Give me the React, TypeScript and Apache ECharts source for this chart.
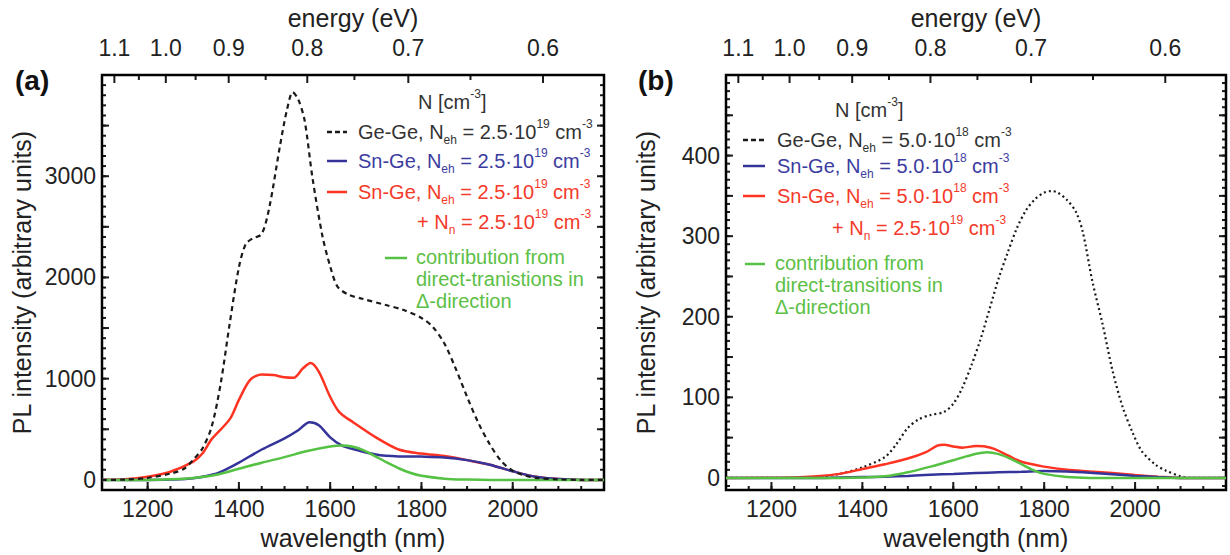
import React, { useEffect, useRef } from "react";
import * as echarts from "echarts";

const FONT = '"Liberation Sans", Arial, Helvetica, sans-serif';
const HC = 1239.84; // eV*nm, wavelength <-> photon energy

// ---- tick definitions ----
const energyMajor = [1.1, 1.0, 0.9, 0.8, 0.7, 0.6];
const energyMinor = [1.05, 0.95, 0.85, 0.75, 0.65];
const wlLabels = [1200, 1400, 1600, 1800, 2000];
const aYLabels = [0, 1000, 2000, 3000];
const bYLabels = [0, 100, 200, 300, 400];

// ---- panel (a): N_eh = 2.5e19 ----
const aGeGe = [
  [1100, 0], [1150, 3], [1200, 20], [1250, 62], [1280, 110], [1300, 200], [1320, 310],
  [1340, 520], [1360, 950], [1380, 1550], [1400, 2100], [1415, 2330], [1430, 2385],
  [1450, 2430], [1467, 2700], [1490, 3300], [1505, 3650], [1518, 3830], [1530, 3760],
  [1544, 3550], [1561, 2990], [1583, 2410], [1600, 2110], [1616, 1910], [1640, 1830],
  [1670, 1790], [1720, 1730], [1760, 1680], [1800, 1600], [1825, 1510], [1850, 1350],
  [1875, 1100], [1900, 820], [1925, 560], [1950, 350], [1975, 185], [2000, 90],
  [2025, 45], [2050, 20], [2100, 5], [2150, 0], [2200, 0],
];
const aSnGe = [
  [1100, 0], [1200, 0], [1250, 3], [1300, 15], [1350, 60], [1375, 110], [1400, 170],
  [1450, 300], [1500, 410], [1530, 490], [1555, 570], [1575, 540], [1600, 420],
  [1625, 340], [1650, 305], [1700, 250], [1750, 232], [1800, 230], [1850, 222],
  [1900, 195], [1950, 150], [2000, 85], [2050, 30], [2100, 8], [2150, 0], [2200, 0],
];
const aSnGeNn = [
  [1100, 0], [1150, 5], [1200, 30], [1250, 80], [1300, 180], [1320, 260], [1340, 400],
  [1380, 600], [1400, 790], [1425, 990], [1450, 1040], [1475, 1035], [1500, 1015],
  [1520, 1010], [1540, 1100], [1557, 1155], [1575, 1070], [1600, 820], [1620, 670],
  [1650, 570], [1700, 420], [1750, 300], [1800, 260], [1850, 235], [1900, 195],
  [1950, 150], [2000, 85], [2050, 30], [2100, 8], [2150, 0], [2200, 0],
];
const aDelta = [
  [1100, 0], [1200, 0], [1250, 5], [1300, 18], [1350, 50], [1400, 110], [1450, 170],
  [1500, 225], [1550, 285], [1600, 330], [1625, 340], [1650, 328], [1675, 290],
  [1700, 230], [1725, 170], [1750, 115], [1775, 70], [1800, 40], [1850, 12],
  [1900, 3], [1950, 0], [2200, 0],
];

// ---- panel (b): N_eh = 5.0e18 ----
const bGeGe = [
  [1100, 0], [1250, 0], [1300, 1], [1350, 5], [1400, 13], [1450, 26], [1475, 42],
  [1500, 62], [1525, 73], [1550, 78], [1580, 82], [1600, 92], [1620, 112], [1640, 140],
  [1660, 172], [1680, 210], [1700, 248], [1720, 280], [1740, 310], [1760, 332],
  [1780, 346], [1800, 354], [1816, 356], [1830, 354], [1850, 345], [1870, 330],
  [1885, 305], [1906, 244], [1928, 192], [1950, 134], [1972, 89], [1994, 57],
  [2015, 33], [2046, 16], [2068, 9], [2100, 2], [2120, 0], [2200, 0],
];
const bSnGe = [
  [1100, 0], [1300, 0], [1350, 0.5], [1400, 1], [1450, 1.5], [1500, 2.5], [1550, 4],
  [1600, 5], [1650, 6], [1700, 7], [1750, 7.5], [1800, 8.5], [1850, 8], [1900, 6.5],
  [1950, 4.5], [2000, 2.5], [2050, 1], [2100, 0], [2200, 0],
];
const bSnGeNn = [
  [1100, 0], [1250, 0.5], [1300, 2], [1350, 5], [1400, 11], [1450, 17], [1500, 24],
  [1540, 32], [1565, 40], [1580, 41], [1600, 39], [1620, 37.5], [1650, 39.5],
  [1670, 39], [1690, 36], [1720, 28], [1750, 20], [1800, 14], [1850, 10], [1900, 8],
  [1950, 6], [2000, 3.5], [2050, 1.5], [2100, 0], [2200, 0],
];
const bDelta = [
  [1100, 0], [1350, 0], [1400, 0.5], [1450, 2], [1500, 7], [1550, 14], [1600, 22],
  [1650, 30], [1675, 32], [1700, 29.5], [1725, 24], [1750, 17], [1775, 10], [1800, 5],
  [1850, 1], [1900, 0], [2200, 0],
];

const C_BLACK = "#1a1a1a";
const C_BLUE = "#34349a";
const C_RED = "#ff3322";
const C_GREEN = "#55c244";
const T_BLACK = "#333333";
const T_BLUE = "#3c3ca0";
const T_RED = "#f43a2a";
const T_GREEN = "#5cc046";

const X_MIN = 1100;
const X_MAX = 2200;

function range(a: number, b: number, step: number) {
  const out: number[] = [];
  for (let v = a; v <= b + 1e-9; v += step) out.push(Math.round(v * 1000) / 1000);
  return out;
}

const labelStyle = () => ({ fontSize: 23, color: "#222", fontFamily: FONT });
const nameStyle = () => ({ fontSize: 25, color: "#222", fontFamily: FONT });

function xAxesFor(gridIndex: number) {
  return [
    {
      type: "value", gridIndex, min: X_MIN, max: X_MAX, position: "bottom",
      splitLine: { show: false },
      axisLine: { show: false, onZero: false },
      axisTick: { show: false },
      axisLabel: { customValues: wlLabels, formatter: (v: number) => String(v), margin: 7, ...labelStyle() },
      name: "wavelength (nm)", nameLocation: "middle", nameGap: 35, nameTextStyle: nameStyle(),
    },
    {
      type: "value", gridIndex, min: X_MIN, max: X_MAX, position: "top",
      splitLine: { show: false },
      axisLine: { show: false, onZero: false },
      axisTick: { show: false },
      axisLabel: {
        customValues: energyMajor.map((e) => HC / e),
        formatter: (v: number) => (HC / v).toFixed(1),
        margin: 16, ...labelStyle(),
      },
      name: "energy (eV)", nameLocation: "middle", nameGap: 45, nameTextStyle: nameStyle(),
    },
  ];
}

function yAxisFor(gridIndex: number, min: number, max: number, labels: number[]) {
  return {
    type: "value", gridIndex, min, max, position: "left",
    splitLine: { show: false },
    axisLine: { show: false, onZero: false },
    axisTick: { show: false },
    axisLabel: { customValues: labels, formatter: (v: number) => String(v), margin: 6, ...labelStyle() },
    name: "PL intensity (arbitrary units)", nameLocation: "middle", nameGap: 68, nameTextStyle: nameStyle(),
  };
}

function lineSeries(data: number[][], xIdx: number, yIdx: number, color: string, width: number, dash: any, z: number) {
  return {
    type: "line",
    data,
    xAxisIndex: xIdx,
    yAxisIndex: yIdx,
    showSymbol: false,
    symbol: "none",
    smooth: 0.3,
    z,
    lineStyle: { color, width, type: dash },
  };
}

function richFor(color: string) {
  return {
    a: { fontSize: 20, lineHeight: 28, fill: color, color, fontFamily: FONT },
    s: { fontSize: 12, lineHeight: 18, verticalAlign: "bottom", fill: color, color, fontFamily: FONT },
    p: { fontSize: 12, lineHeight: 14, verticalAlign: "top", fill: color, color, fontFamily: FONT },
  };
}

function richText(x: number, y: number, text: string, color: string) {
  return {
    type: "text",
    x,
    y,
    style: { text, rich: richFor(color), align: "left", verticalAlign: "middle", fill: color, font: `20px ${FONT}` },
  };
}

function sample(x1: number, x2: number, y: number, color: string, dash?: number[]) {
  return {
    type: "line",
    shape: { x1, y1: y, x2, y2: y },
    style: { stroke: color, lineWidth: 2.5, lineDash: dash || null },
  };
}

function legendGraphics(o: {
  titleX: number; titleY: number; lineX1: number; lineX2: number; textX: number;
  rows: number[]; nnX: number; nnY: number; gLineX1: number; gLineX2: number; gTextX: number; gY: number;
  conc: string; exp: string; dash: number[]; tranText: string;
}) {
  const tail = `{a| = ${o.conc}}{p|${o.exp}}{a| cm}{p|-3}`;
  return [
    richText(o.titleX, o.titleY, "{a|N [cm}{p|-3}{a|]}", T_BLACK),
    sample(o.lineX1, o.lineX2, o.rows[0], C_BLACK, o.dash),
    richText(o.textX, o.rows[0], `{a|Ge-Ge, N}{s|eh}${tail}`, T_BLACK),
    sample(o.lineX1, o.lineX2, o.rows[1], C_BLUE),
    richText(o.textX, o.rows[1], `{a|Sn-Ge, N}{s|eh}${tail}`, T_BLUE),
    sample(o.lineX1, o.lineX2, o.rows[2], C_RED),
    richText(o.textX, o.rows[2], `{a|Sn-Ge, N}{s|eh}${tail}`, T_RED),
    richText(o.nnX, o.nnY, "{a|+ N}{s|n}{a| = 2.5·10}{p|19}{a| cm}{p|-3}", T_RED),
    sample(o.gLineX1, o.gLineX2, o.gY, C_GREEN),
    {
      type: "text",
      x: o.gTextX,
      y: o.gY - 12,
      style: {
        text: `contribution from\n${o.tranText}\nΔ-direction`,
        font: `20px ${FONT}`,
        fill: T_GREEN,
        lineHeight: 22,
        align: "left",
        verticalAlign: "top",
      },
    },
  ];
}

// frame and tick marks, placed through the library's own scales (convertToPixel)
function frameAndTicks(chart: any, gridIndex: number, yMin: number, yMax: number, yMid: number[], yMinor: number[]) {
  const px = (x: number, y: number) => {
    const p = chart.convertToPixel({ gridIndex }, [x, y]);
    return [Number(p[0]), Number(p[1])];
  };
  const out: any[] = [];
  const seg = (x1: number, y1: number, x2: number, y2: number) =>
    ({ type: "line", shape: { x1, y1, x2, y2 }, style: { stroke: C_BLACK, lineWidth: 2 } });
  const addX = (vals: number[], len: number, top: boolean) => {
    vals.forEach((v) => {
      const p = px(v, top ? yMax : yMin);
      out.push(seg(p[0], p[1], p[0], p[1] + (top ? len : -len)));
    });
  };
  const addY = (vals: number[], len: number) => {
    vals.forEach((v) => {
      const l = px(X_MIN, v);
      const r = px(X_MAX, v);
      out.push(seg(l[0], l[1], l[0] + len, l[1]));
      out.push(seg(r[0], r[1], r[0] - len, r[1]));
    });
  };
  addX(wlLabels, 8, false);
  addX(range(1150, 2150, 50), 4, false);
  addX(energyMajor.map((e) => HC / e), 8, true);
  addX(energyMinor.map((e) => HC / e), 5, true);
  addY(yMid, 7);
  addY(yMinor, 4);
  const bl = px(X_MIN, yMin);
  const tr = px(X_MAX, yMax);
  out.push({
    type: "rect",
    shape: { x: bl[0], y: tr[1], width: tr[0] - bl[0], height: bl[1] - tr[1] },
    style: { fill: "none", stroke: "#000", lineWidth: 2.5 },
  });
  return out;
}

export default function App() {
  const ref = useRef<HTMLDivElement>(null);
  useEffect(() => {
    if (!ref.current) return;
    const chart = echarts.init(ref.current, undefined, { renderer: "svg" });
    const aMin = -100, aMax = 4000, bMin = -15, bMax = 500;
    const option: any = {
      animation: false,
      textStyle: { fontFamily: FONT },
      grid: [
        { left: 102, top: 69, width: 502, height: 423 },
        { left: 726, top: 69, width: 500, height: 423 },
      ],
      xAxis: [...xAxesFor(0), ...xAxesFor(1)],
      yAxis: [yAxisFor(0, aMin, aMax, aYLabels), yAxisFor(1, bMin, bMax, bYLabels)],
      series: [
        lineSeries(aSnGeNn, 0, 0, C_RED, 2.5, "solid", 2),
        lineSeries(aSnGe, 0, 0, C_BLUE, 2.5, "solid", 3),
        lineSeries(aDelta, 0, 0, C_GREEN, 2.5, "solid", 4),
        lineSeries(aGeGe, 0, 0, C_BLACK, 2.2, [5, 4], 5),
        lineSeries(bGeGe, 2, 1, C_BLACK, 2.2, [2, 3], 2),
        lineSeries(bSnGeNn, 2, 1, C_RED, 2.5, "solid", 3),
        lineSeries(bSnGe, 2, 1, C_BLUE, 2.5, "solid", 4),
        lineSeries(bDelta, 2, 1, C_GREEN, 2.5, "solid", 5),
      ],
    };
    chart.setOption(option);
    let extra: any[] = [];
    try {
      extra = [
        ...frameAndTicks(chart, 0, aMin, aMax, range(0, 3500, 500), range(0, 3900, 100)),
        ...frameAndTicks(chart, 1, bMin, bMax, range(0, 450, 50), range(-10, 490, 10)),
      ];
    } catch (e) {
      extra = [];
    }
    const graphic = [
      { type: "text", x: 15, y: 80, style: { text: "(a)", font: `bold 28px ${FONT}`, fill: "#111", verticalAlign: "middle" } },
      { type: "text", x: 638, y: 80, style: { text: "(b)", font: `bold 28px ${FONT}`, fill: "#111", verticalAlign: "middle" } },
      ...legendGraphics({
        titleX: 418, titleY: 102, lineX1: 327, lineX2: 347, textX: 358,
        rows: [132, 161, 192], nnX: 417, nnY: 222,
        gLineX1: 385, gLineX2: 407, gTextX: 416, gY: 258,
        conc: "2.5·10", exp: "19", dash: [5, 3], tranText: "direct-tranistions in",
      }),
      ...legendGraphics({
        titleX: 835, titleY: 110, lineX1: 743, lineX2: 765, textX: 777,
        rows: [140, 166, 196], nnX: 832, nnY: 228,
        gLineX1: 745, gLineX2: 765, gTextX: 775, gY: 264,
        conc: "5.0·10", exp: "18", dash: [5, 3], tranText: "direct-transitions in",
      }),
      ...extra,
    ];
    chart.setOption({ graphic });
    return () => chart.dispose();
  }, []);
  return <div ref={ref} style={{ position: "absolute", left: 0, top: 0, width: 1230, height: 555 }} />;
}
